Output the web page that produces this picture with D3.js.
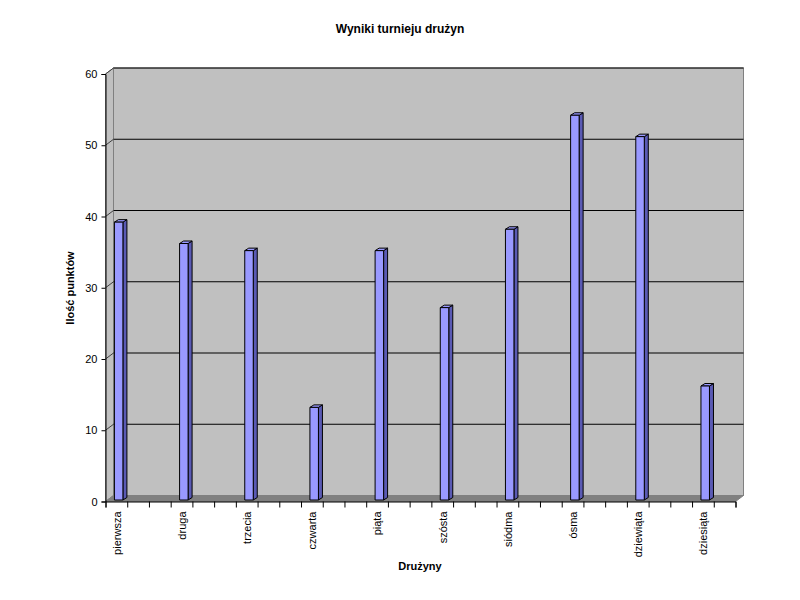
<!DOCTYPE html>
<html><head><meta charset="utf-8">
<script src="https://cdn.jsdelivr.net/npm/d3@7/dist/d3.min.js"></script>
<style>body{margin:0;background:#fff}svg{display:block}text{font-family:Arial,"Liberation Sans",sans-serif}</style>
</head><body>
<script>
const categories = ["pierwsza","druga","trzecia","czwarta","piąta","szósta","siódma","ósma","dziewiąta","dziesiąta"];
const values = [39,36,35,13,35,27,38,54,51,16];
const yTicks = [0,10,20,30,40,50,60];
const title = "Wyniki turnieju drużyn";
const xTitle = "Drużyny";
const yTitle = "Ilość punktów";
const slotCount = 29, slotStep = 3;

const W=800,H=600;
const svg=d3.select("body").append("svg").attr("width",W).attr("height",H);
const x0=105.5, x1=735.5, yTop=74, yBot=501.5;
const dx=8, dy=-6;
const x=d3.scaleLinear().domain([0,slotCount]).range([x0,x1]);
const y=d3.scaleLinear().domain([0,60]).range([yBot,yTop]);

// back wall
svg.append("rect").attr("x",x0+dx).attr("y",yTop+dy).attr("width",x1-x0).attr("height",yBot-yTop)
  .attr("fill","#c0c0c0").attr("stroke","#808080");
// left wall
svg.append("path").attr("d",`M${x0},${yTop}L${x0+dx},${yTop+dy}L${x0+dx},${yBot+dy}L${x0},${yBot}Z`)
  .attr("fill","#c0c0c0").attr("stroke","#808080");
// floor
svg.append("path").attr("d",`M${x0},${yBot}L${x0+dx},${yBot+dy}L${x1+dx},${yBot+dy}L${x1},${yBot}Z`)
  .attr("fill","#808080").attr("stroke","#808080");
// gridlines
yTicks.filter(t=>t>0).forEach(t=>{
  svg.append("line").attr("x1",x0+dx).attr("x2",x1+dx).attr("y1",y(t)+dy).attr("y2",y(t)+dy).attr("stroke","#000");
  svg.append("line").attr("x1",x0).attr("x2",x0+dx).attr("y1",y(t)).attr("y2",y(t)+dy).attr("stroke","#404040");
});
// y axis
const ya=svg.append("g").attr("transform",`translate(${x0},0)`)
  .call(d3.axisLeft(y).tickValues(yTicks).tickSize(4).tickPadding(4));
ya.select(".domain").attr("stroke","#000");
ya.selectAll("text").attr("font-size","11px").attr("fill","#000");
// x axis
const xa=svg.append("g").attr("transform",`translate(0,${yBot})`)
  .call(d3.axisBottom(x).tickValues(d3.range(0,slotCount+1)).tickSize(6).tickFormat(""));
xa.select(".domain").attr("stroke","#000");
// bars
const bw=8.5, bdx=4, bdy=-2.5, off=2.3, offy=-1.5;
categories.forEach((c,i)=>{
  const s=i*slotStep;
  const cx=(x(s)+x(s+1))/2+off;
  const L=cx-bw/2, R=cx+bw/2;
  const top=y(values[i])+offy, bot=yBot+offy;
  const g=svg.append("g").attr("stroke","#000").attr("stroke-width",1).attr("stroke-linejoin","round");
  g.append("path").attr("d",`M${R},${bot}L${R+bdx},${bot+bdy}L${R+bdx},${top+bdy}L${R},${top}Z`).attr("fill","#5a5ab4");
  g.append("path").attr("d",`M${L},${top}L${L+bdx},${top+bdy}L${R+bdx},${top+bdy}L${R},${top}Z`).attr("fill","#9999ff");
  g.append("rect").attr("x",L).attr("y",top).attr("width",bw).attr("height",bot-top).attr("fill","#9999ff");
  // label
  svg.append("text").attr("transform",`translate(${cx+2},${yBot+10}) rotate(-90)`)
    .attr("text-anchor","end").attr("font-size","11px").attr("fill","#000").text(c);
});
svg.append("text").attr("x",400).attr("y",33).attr("text-anchor","middle").attr("font-size","12px").attr("font-weight","bold").text(title);
svg.append("text").attr("x",420).attr("y",570).attr("text-anchor","middle").attr("font-size","11px").attr("font-weight","bold").text(xTitle);
svg.append("text").attr("transform",`translate(74,288) rotate(-90)`).attr("text-anchor","middle").attr("font-size","11px").attr("font-weight","bold").text(yTitle);
</script>
</body></html>
